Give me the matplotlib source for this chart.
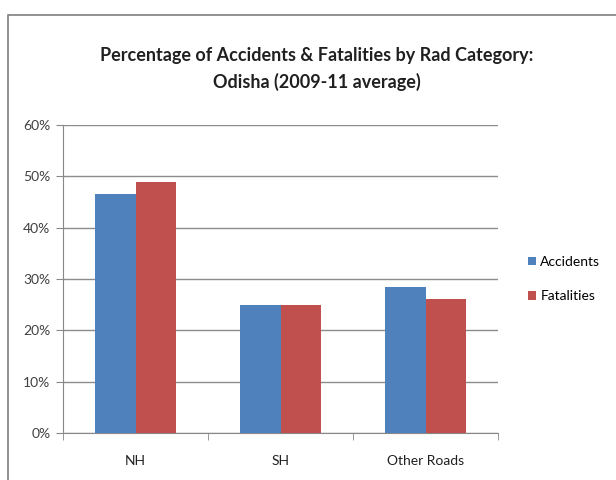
import matplotlib.pyplot as plt
import numpy as np
from matplotlib.patches import Rectangle

categories = ['NH', 'SH', 'Other Roads']
accidents = [46.6, 25.0, 28.4]
fatalities = [48.8, 25.0, 26.2]
yticks = [0, 10, 20, 30, 40, 50, 60]

plt.rcParams['font.family'] = ['Lato', 'DejaVu Sans']

fig = plt.figure(figsize=(6.16, 4.8), dpi=100)
fig.patches.append(Rectangle((8 / 616, -0.01), 1.0, 1 - 15 / 480 + 0.01,
                             transform=fig.transFigure, fill=False,
                             edgecolor='#7f7f7f', linewidth=1.2))
ax = fig.add_axes([63 / 616, 1 - 433 / 480, 435 / 616, 308 / 480])

x = np.arange(len(categories))
w = 0.28
ax.bar(x - w / 2, accidents, w, color='#4F81BD', label='Accidents', zorder=3)
ax.bar(x + w / 2, fatalities, w, color='#C0504D', label='Fatalities', zorder=3)

ax.set_xlim(-0.5, len(categories) - 0.5)
ax.set_ylim(0, 60)
ax.set_yticks(yticks)
ax.set_yticklabels(['{0}%'.format(t) for t in yticks], fontsize=10, color='#404040')
ax.set_xticks(x)
ax.set_xticklabels(categories, fontsize=10, color='#202020')
ax.tick_params(axis='x', length=0, pad=16)
# category separators on the x axis
ax.set_xticks(np.arange(len(categories) + 1) - 0.5, minor=True)
ax.tick_params(axis='x', which='minor', length=5, color='#888888')
ax.tick_params(axis='y', length=5, color='#888888', pad=4)
ax.yaxis.grid(True, color='#8c8c8c', linewidth=1, zorder=0)
for s in ['top', 'right']:
    ax.spines[s].set_visible(False)
for s in ['left', 'bottom']:
    ax.spines[s].set_color('#888888')

fig.text(317 / 616, 1 - 55 / 480, 'Percentage of Accidents & Fatalities by Rad Category:',
         ha='center', va='center', fontsize=13, fontweight='bold', color='#202020')
fig.text(317 / 616, 1 - 82 / 480, 'Odisha (2009-11 average)',
         ha='center', va='center', fontsize=13, fontweight='bold', color='#202020')

ax.legend(loc='center left', bbox_to_anchor=(1.04, 0.5), frameon=False,
          fontsize=10, handlelength=0.6, handleheight=0.6, handletextpad=0.3,
          labelspacing=1.6)

fig.savefig('out.png', dpi=100)
